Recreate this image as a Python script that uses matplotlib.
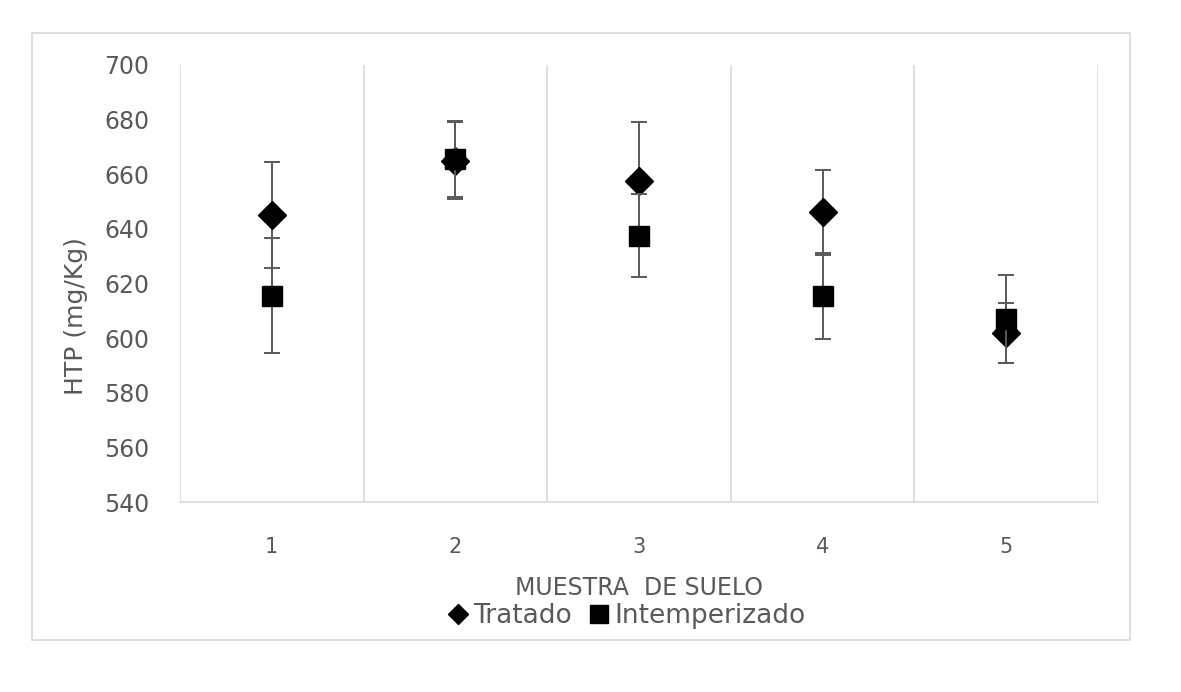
import numpy as np
import matplotlib.pyplot as plt
from matplotlib.patches import Rectangle
from matplotlib.lines import Line2D

# data
muestras = [1, 2, 3, 4, 5]
tratado = [645, 665, 657.5, 646, 602]
tratado_err = [19.5, 14, 21.8, 15.5, 11]
intemp = [615.5, 665.5, 637.5, 615.5, 607]
intemp_err = [21, 14, 15.2, 15.8, 16]

plt.rcParams['font.family'] = ['DejaVu Sans']
gray = '#595959'

fig = plt.figure(figsize=(11.81, 6.92), dpi=100)
ax = fig.add_axes([180/1181, 1 - 502/692, 918/1181, 437/692])

# outer chart border
fig.patches.append(Rectangle((32/1181, 1 - 640/692), 1098/1181, 607/692,
                             transform=fig.transFigure, fill=False,
                             edgecolor='#d9d9d9', linewidth=1.2))

ax.errorbar(muestras, tratado, yerr=tratado_err, fmt='D', color='black',
            markersize=14.5, ecolor=gray, elinewidth=1.4, capsize=6, capthick=1.4,
            zorder=3)
ax.errorbar(muestras, intemp, yerr=intemp_err, fmt='s', color='black',
            markersize=15, ecolor=gray, elinewidth=1.4, capsize=6, capthick=1.4,
            zorder=4)

ax.set_xlim(0.5, 5.5)
ax.set_ylim(540, 700)
ax.set_yticks(np.arange(540, 701, 20))
ax.set_xticks(muestras)

# vertical category separators
for xv in np.arange(0.5, 5.6, 1):
    ax.axvline(xv, color='#d9d9d9', linewidth=1.2, zorder=0)

for s in ['top', 'right', 'left']:
    ax.spines[s].set_visible(False)
ax.spines['bottom'].set_color('#d9d9d9')
ax.spines['bottom'].set_linewidth(1.2)

ax.tick_params(axis='y', length=0, pad=22, labelsize=17, labelcolor=gray)
ax.tick_params(axis='x', length=0, pad=25, labelsize=15, labelcolor=gray)

ax.set_ylabel('HTP (mg/Kg)', fontsize=18, color=gray)
ax.yaxis.set_label_coords(-0.100, 0.425)
ax.set_xlabel('MUESTRA  DE SUELO', fontsize=17, color=gray, labelpad=14)

handles = [Line2D([], [], marker='D', color='black', linestyle='none', markersize=10),
           Line2D([], [], marker='s', color='black', linestyle='none', markersize=13)]
fig.legend(handles, ['Tratado', 'Intemperizado'], loc='center',
           bbox_to_anchor=(625/1181, 1 - 616/692), ncol=2,
           frameon=False, fontsize=19, handletextpad=0.1, columnspacing=0.5,
           handlelength=1.0, labelcolor=gray, borderaxespad=0)

fig.savefig('out.png', dpi=100)
